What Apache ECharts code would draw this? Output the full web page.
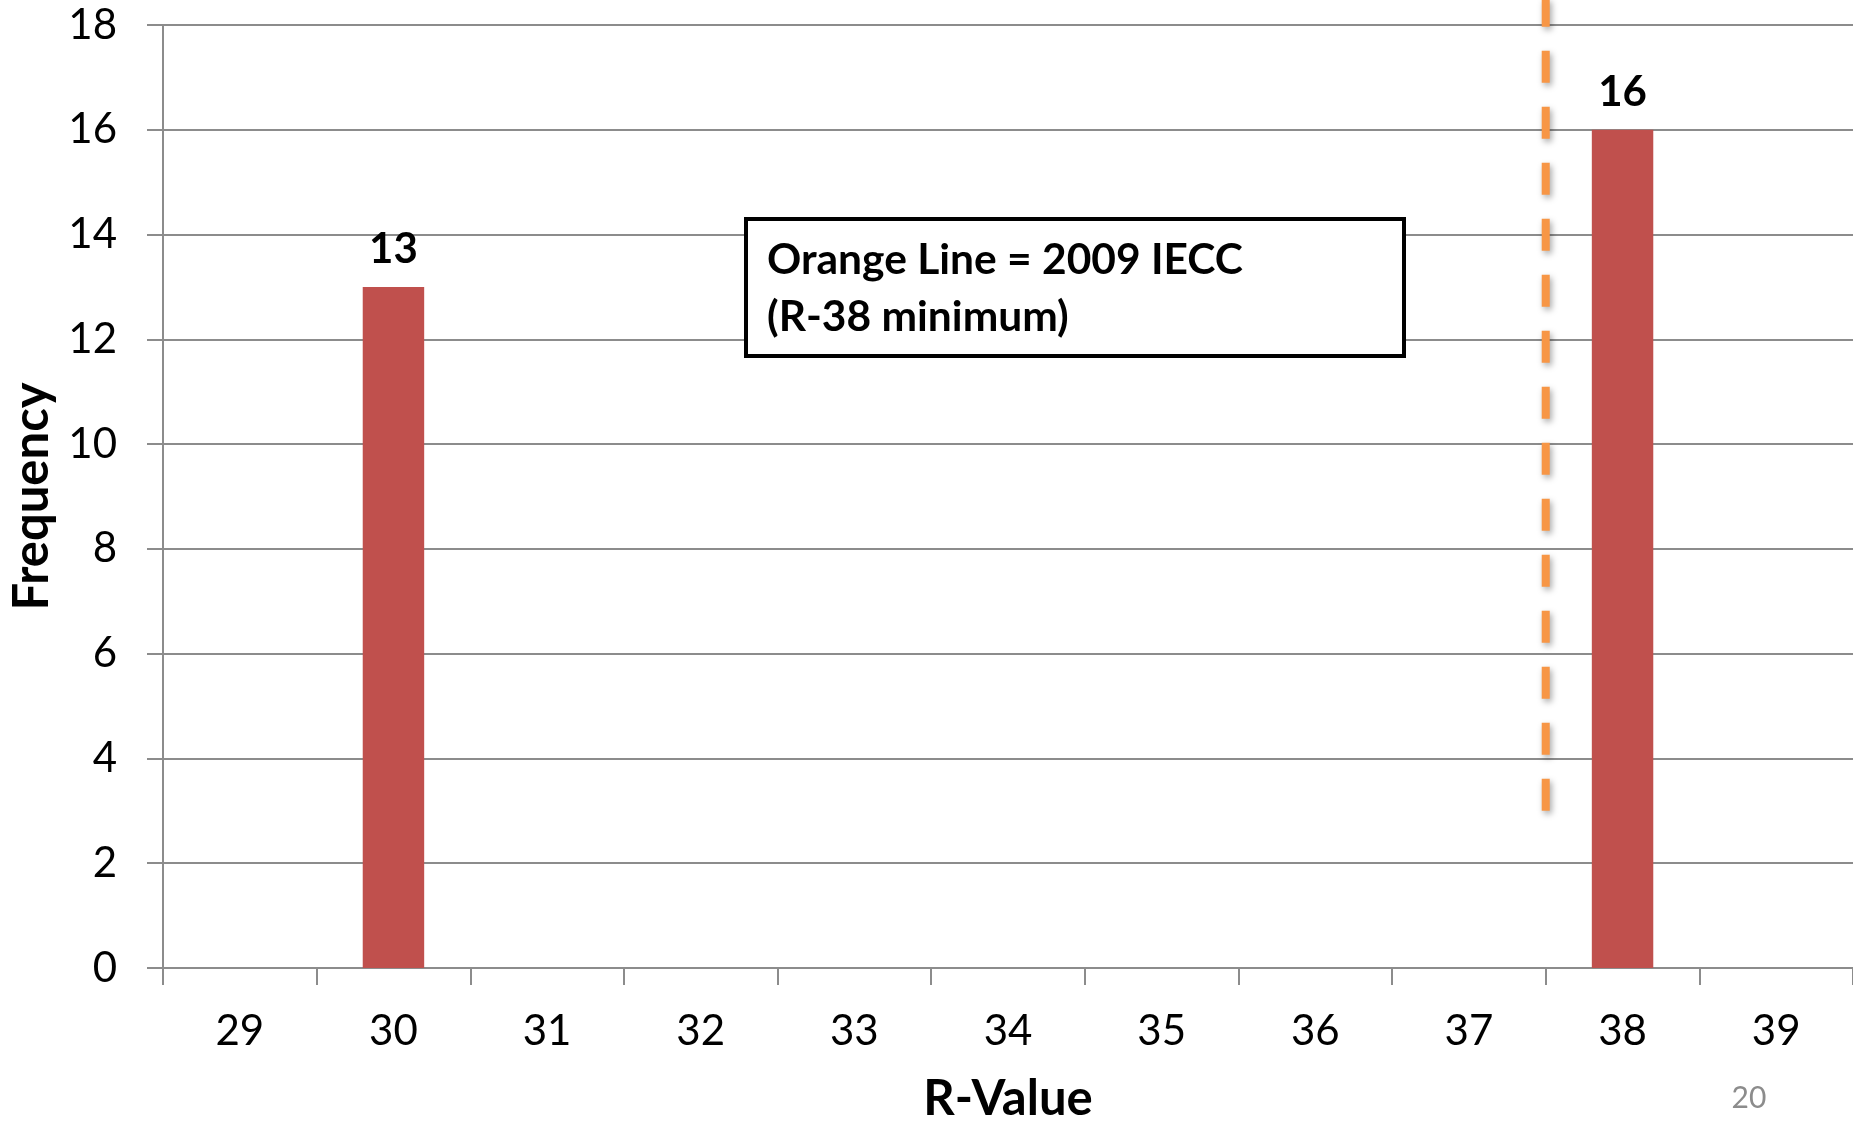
<!DOCTYPE html>
<html>
<head>
<meta charset="utf-8">
<script src="https://cdn.jsdelivr.net/npm/echarts@6/dist/echarts.min.js"></script>
<style>
html,body{margin:0;padding:0;background:#fff;}
#chart{width:1853px;height:1122px;}
</style>
</head>
<body>
<div id="chart"></div>
<script>
// ---- data ----
const categories = ['29','30','31','32','33','34','35','36','37','38','39'];
const frequency = [0, 13, 0, 0, 0, 0, 0, 0, 0, 16, 0];
const yTicks = [0, 2, 4, 6, 8, 10, 12, 14, 16, 18];
const ieccLineR = 37.5;            // boundary between 37 and 38
const ieccLineRange = [3, 18.5];   // vertical extent (frequency units)
const noteLines = ['Orange Line = 2009 IECC', '(R-38 minimum)'];
const pageNumber = '20';

const chart = echarts.init(document.getElementById('chart'));
const FONT = 'Lato';
const gridCol = '#8c8c8c';

chart.setOption({
  animation: false,
  backgroundColor: '#ffffff',
  grid: { left: 163, top: 25, right: 0, bottom: 154, containLabel: false, outerBoundsMode: 'none' },
  xAxis: [{
    type: 'category',
    data: categories,
    boundaryGap: true,
    name: 'R-Value',
    nameLocation: 'middle',
    nameGap: 107,
    nameTextStyle: { fontFamily: FONT, fontWeight: 'bold', fontSize: 49, color: '#000' },
    axisLine: { lineStyle: { color: gridCol, width: 2 } },
    axisTick: { show: true, length: 17, lineStyle: { color: gridCol, width: 2 } },
    axisLabel: { fontFamily: FONT, fontSize: 42, color: '#000', margin: 42 }
  }, {
    type: 'value',
    min: 28.5, max: 39.5,
    show: false
  }],
  yAxis: {
    type: 'value',
    min: yTicks[0], max: yTicks[yTicks.length - 1], interval: 2,
    name: 'Frequency',
    nameLocation: 'middle',
    nameGap: 106,
    nameRotate: 90,
    nameTextStyle: { fontFamily: FONT, fontWeight: 'bold', fontSize: 49, color: '#000' },
    axisLine: { show: true, lineStyle: { color: gridCol, width: 2 } },
    axisTick: { show: true, length: 16, lineStyle: { color: gridCol, width: 2 } },
    axisLabel: { fontFamily: FONT, fontSize: 42, color: '#000', margin: 46 },
    splitLine: { show: true, lineStyle: { color: gridCol, width: 2 } }
  },
  series: [{
    type: 'bar',
    data: frequency,
    barWidth: '40%',
    itemStyle: { color: '#C0504D' },
    label: {
      show: true, position: 'top', distance: 16,
      fontFamily: FONT, fontWeight: 'bold', fontSize: 42, color: '#000',
      formatter: p => (p.value ? String(p.value) : '')
    },
    z: 2
  }, {
    type: 'line',
    xAxisIndex: 1,
    data: [[ieccLineR, ieccLineRange[0]], [ieccLineR, ieccLineRange[1]]],
    clip: false,
    symbol: 'none',
    lineStyle: {
      color: '#F79646', width: 8, type: [32, 24], cap: 'butt',
      shadowColor: 'rgba(0,0,0,0.35)', shadowBlur: 6, shadowOffsetX: 2, shadowOffsetY: 3
    },
    z: 3
  }],
  graphic: [{
    type: 'rect',
    shape: { x: 746, y: 219, width: 658, height: 137 },
    style: { fill: '#fff', stroke: '#000', lineWidth: 4 },
    z: 10
  }, {
    type: 'text',
    x: 767, y: 260,
    style: { text: noteLines[0], fontFamily: FONT, fontWeight: 'bold', fontSize: 42.5, fill: '#000', verticalAlign: 'middle' },
    z: 11
  }, {
    type: 'text',
    x: 767, y: 317,
    style: { text: noteLines[1], fontFamily: FONT, fontWeight: 'bold', fontSize: 42.5, fill: '#000', verticalAlign: 'middle' },
    z: 11
  }, {
    type: 'text',
    x: 1749, y: 1098,
    style: { text: pageNumber, fontFamily: FONT, fontSize: 30, fill: '#8c8c8c', align: 'center', verticalAlign: 'middle' },
    z: 11
  }]
});
</script>
</body>
</html>
